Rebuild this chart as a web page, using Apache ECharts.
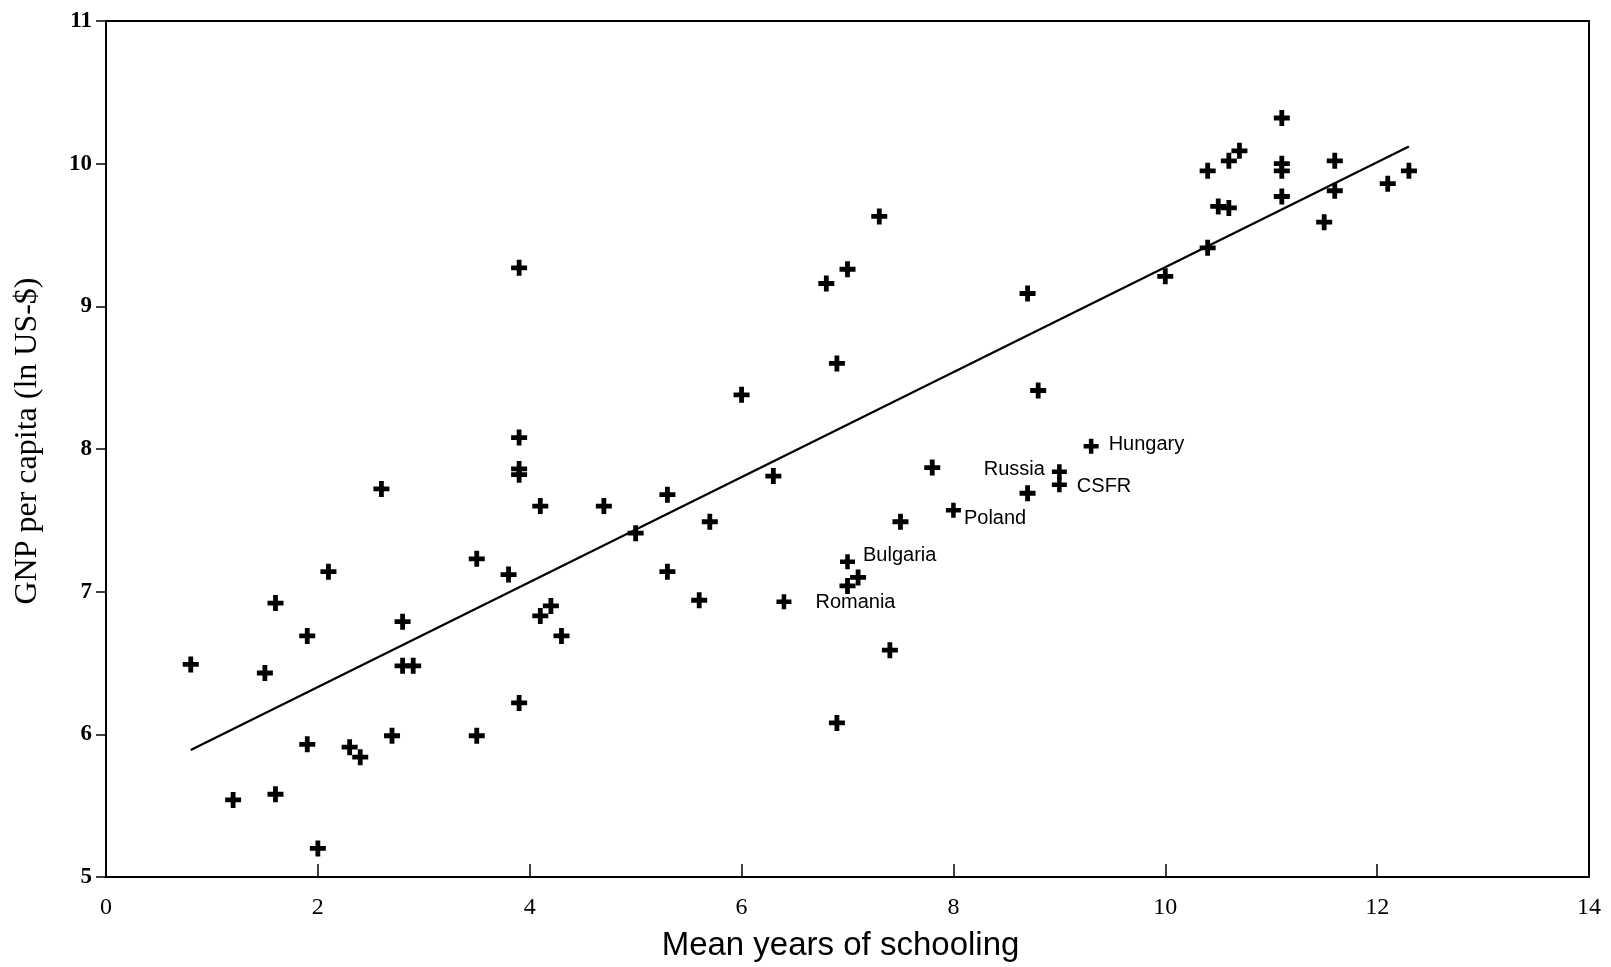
<!DOCTYPE html>
<html>
<head>
<meta charset="utf-8">
<script src="https://cdn.jsdelivr.net/npm/echarts@6/dist/echarts.min.js"></script>
<style>html,body{margin:0;padding:0;background:#fff;}#c{width:1611px;height:967px;}</style>
</head>
<body>
<div id="c"></div>
<script>
// Unlabelled countries
const schooling = [0.8,1.2,1.5,1.6,1.6,1.9,1.9,2.0,2.1,2.3,2.4,2.6,2.7,2.8,2.8,2.9,3.5,3.5,3.8,3.9,3.9,3.9,3.9,3.9,4.1,4.1,4.2,4.3,4.7,5.0,5.3,5.3,5.6,5.7,6.0,6.3,6.8,6.9,6.9,7.0,7.1,7.0,7.3,7.4,7.5,7.8,8.7,8.7,8.8,10.0,10.4,10.4,10.5,10.6,10.6,10.7,11.1,11.1,11.1,11.1,11.5,11.6,11.6,12.1,12.3];
const gnp = [6.49,5.54,6.43,6.92,5.58,6.69,5.93,5.20,7.14,5.91,5.84,7.72,5.99,6.79,6.48,6.48,7.23,5.99,7.12,9.27,8.08,7.86,7.82,6.22,7.60,6.83,6.90,6.69,7.60,7.41,7.68,7.14,6.94,7.49,8.38,7.81,9.16,8.60,6.08,9.26,7.10,7.04,9.63,6.59,7.49,7.87,9.09,7.69,8.41,9.21,9.95,9.41,9.70,9.69,10.02,10.09,10.32,10.00,9.95,9.77,9.59,10.02,9.81,9.86,9.95];
// Labelled countries
const eastNames = ['Romania','Bulgaria','Poland','Russia','CSFR','Hungary'];
const eastSchooling = [6.4,7.0,8.0,9.0,9.0,9.3];
const eastGnp = [6.93,7.21,7.57,7.84,7.75,8.02];
// Regression line end points
const trendX = [0.8,12.3];
const trendY = [5.89,10.12];
// Axis ticks
const xTicks = [0,2,4,6,8,10,12,14];
const yTicks = [5,6,7,8,9,10,11];

const plusPath = 'path://M3.5,0H6.5V3.5H10V6.5H6.5V10H3.5V6.5H0V3.5H3.5Z';
const labelStyles = {
  Romania: {position:'right', distance:24, offset:[0,1]},
  Bulgaria:{position:'right', distance:8, offset:[0,-6]},
  Poland:  {position:'right', distance:3, offset:[0,8]},
  Russia:  {position:'left', distance:7, offset:[0,-2]},
  CSFR:    {position:'right', distance:10, offset:[0,2]},
  Hungary: {position:'right', distance:10, offset:[0,-2]}
};

const chart = echarts.init(document.getElementById('c'));
chart.setOption({
  animation:false,
  backgroundColor:'#fff',
  grid:{left:106, right:22, top:21, bottom:87, show:true, borderColor:'#000', borderWidth:2},
  xAxis:{
    type:'value', min:xTicks[0], max:xTicks[xTicks.length-1], interval:2,
    name:'Mean years of schooling', nameLocation:'middle', nameGap:52,
    nameTextStyle:{fontFamily:'Liberation Sans', fontSize:33, color:'#000', padding:[0,14,0,0]},
    axisLine:{show:true, lineStyle:{color:'#000', width:2}},
    axisTick:{show:true, inside:true, length:13, lineStyle:{color:'#000', width:1.5}},
    axisLabel:{fontFamily:'Liberation Serif', fontSize:24, color:'#000', margin:19},
    splitLine:{show:false}
  },
  yAxis:{
    type:'value', min:yTicks[0], max:yTicks[yTicks.length-1], interval:1,
    name:'GNP per capita (ln US-$)', nameLocation:'middle', nameGap:62, nameRotate:90,
    nameTextStyle:{fontFamily:'Liberation Serif', fontSize:32, color:'#000', padding:[0,0,0,16]},
    axisLine:{show:true, lineStyle:{color:'#000', width:2}},
    axisTick:{show:true, inside:false, length:10, lineStyle:{color:'#000', width:1.5}},
    axisLabel:{fontFamily:'Liberation Serif', fontWeight:'bold', fontSize:23, color:'#000', margin:14},
    splitLine:{show:false}
  },
  series:[
    {
      type:'line', data:trendX.map((x,i)=>[x,trendY[i]]),
      showSymbol:false, symbol:'none',
      lineStyle:{color:'#000', width:2.2}, z:2
    },
    {
      type:'scatter', data:schooling.map((x,i)=>[x,gnp[i]]),
      symbol:plusPath, symbolSize:16,
      itemStyle:{color:'#000', opacity:1}, z:3
    },
    {
      type:'scatter',
      data:eastNames.map((n,i)=>({
        name:n, value:[eastSchooling[i], eastGnp[i]],
        label:Object.assign({show:true, formatter:n, fontFamily:'Liberation Sans', fontSize:20, color:'#000'}, labelStyles[n])
      })),
      symbol:plusPath, symbolSize:15,
      itemStyle:{color:'#000', opacity:1}, z:3
    }
  ]
});
</script>
</body>
</html>
